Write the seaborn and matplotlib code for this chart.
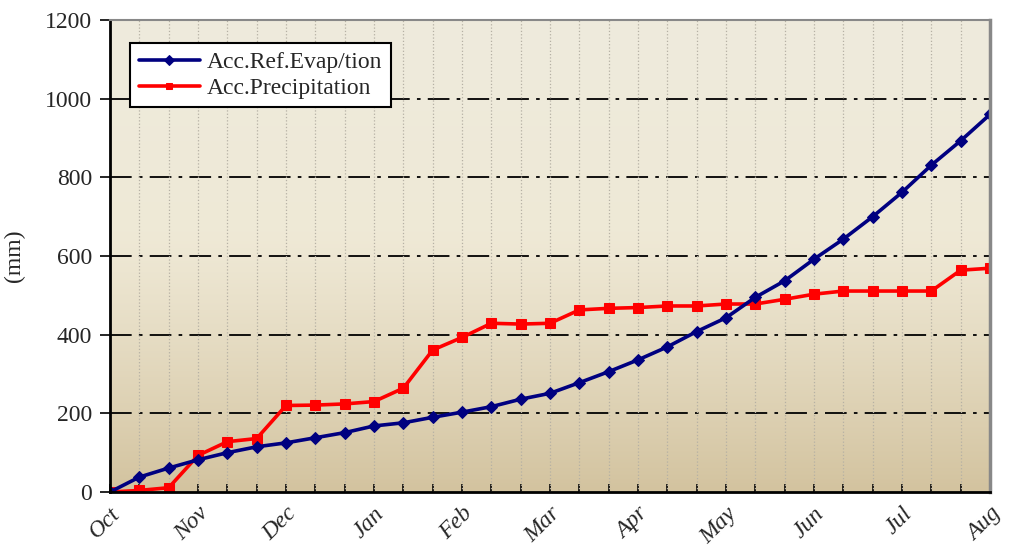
import numpy as np
import pandas as pd
import matplotlib.pyplot as plt
import seaborn as sns

months = ['Oct', 'Nov', 'Dec', 'Jan', 'Feb', 'Mar', 'Apr', 'May', 'Jun', 'Jul', 'Aug']
# ten-day periods, 3 per month
evap = [0, 38, 61, 82, 100, 115, 125, 138, 151, 168, 176, 190, 203, 217, 236, 251,
        278, 306, 336, 369, 408, 443, 495, 537, 592, 643, 700, 762, 831, 893, 960]
precip = [0, 4, 11, 93, 128, 136, 220, 221, 224, 230, 264, 361, 393, 429, 427, 429,
          463, 467, 469, 473, 473, 478, 478, 490, 503, 511, 511, 511, 511, 564, 569]

period = np.arange(len(evap))
df = pd.DataFrame({'period': period, 'evap': evap, 'precip': precip})

sns.set_theme(style="white")
plt.rcParams['font.family'] = ['Liberation Serif', 'DejaVu Serif']

fig = plt.figure(figsize=(10.13, 5.47), dpi=100)
ax = fig.add_axes([0.1086, 0.1005, 0.8687, 0.8629])

# background gradient
grad = np.linspace(0, 1, 256)
top = np.array([0xee, 0xeb, 0xdd]) / 255
mid = np.array([0xef, 0xe9, 0xd6]) / 255
bot = np.array([0xd3, 0xc3, 0x9f]) / 255
cols = np.zeros((256, 3))
for i, v in enumerate(grad):
    if v < 0.45:
        c = top + (mid - top) * (v / 0.45)
    else:
        c = mid + (bot - mid) * ((v - 0.45) / 0.55) ** 1.2
    cols[i] = c
ax.imshow(cols.reshape(256, 1, 3), aspect='auto', extent=[0, 1, 0, 1],
          transform=ax.transAxes, zorder=0)

sns.lineplot(data=df, x='period', y='evap', ax=ax, color='#000080', lw=2.6,
             marker='D', markersize=6.5, markeredgecolor='#000080',
             label='Acc.Ref.Evap/tion', zorder=4)
sns.lineplot(data=df, x='period', y='precip', ax=ax, color='#ff0000', lw=2.6,
             marker='s', markersize=7, markeredgecolor='#ff0000',
             label='Acc.Precipitation', zorder=3)

ax.set_xlim(0, len(evap) - 1)
ax.set_ylim(0, 1200)
ax.set_yticks(range(0, 1201, 200))
ax.set_xticks(np.arange(0, len(evap), 3))
ax.set_xticklabels(months, rotation=45, ha='right', rotation_mode='anchor',
                   fontstyle='italic', fontsize=17)
ax.set_xticks(period, minor=True)
ax.tick_params(axis='y', labelsize=17, length=7, width=1.2, direction='out', left=True,
               color='black', pad=6)
ax.tick_params(axis='x', which='both', direction='in', length=6, width=1.2, bottom=True,
               color='black', pad=8)
ax.set_xlabel('')
ax.set_ylabel('(mm)', fontsize=17, labelpad=14)

for y in range(200, 1201, 200):
    ax.axhline(y, color='black', lw=1.3, ls=(0, (12, 4, 2, 4)), zorder=1)
for x in period[1:-1]:
    ax.axvline(x, color='#b5b0a4', lw=0.9, ls=':', zorder=1)

ax.spines['left'].set_color('black')
ax.spines['left'].set_linewidth(2)
ax.spines['bottom'].set_color('black')
ax.spines['bottom'].set_linewidth(2)
ax.spines['top'].set_color('#888888')
ax.spines['top'].set_linewidth(1.5)
ax.spines['right'].set_color('#888888')
ax.spines['right'].set_linewidth(2.5)
for s in ax.spines.values():
    s.set_zorder(5)

leg = ax.legend(loc='upper left', bbox_to_anchor=(0.023, 0.951), borderaxespad=0,
                fontsize=17, frameon=True, fancybox=False, handlelength=2.6,
                borderpad=0.35, labelspacing=0.2, handletextpad=0.3)
leg.get_frame().set_edgecolor('black')
leg.get_frame().set_linewidth(1.5)
leg.get_frame().set_facecolor('white')
leg.get_frame().set_alpha(1)
for h in leg.legend_handles:
    h.set_markersize(5)

fig.savefig('out.png', dpi=100)
